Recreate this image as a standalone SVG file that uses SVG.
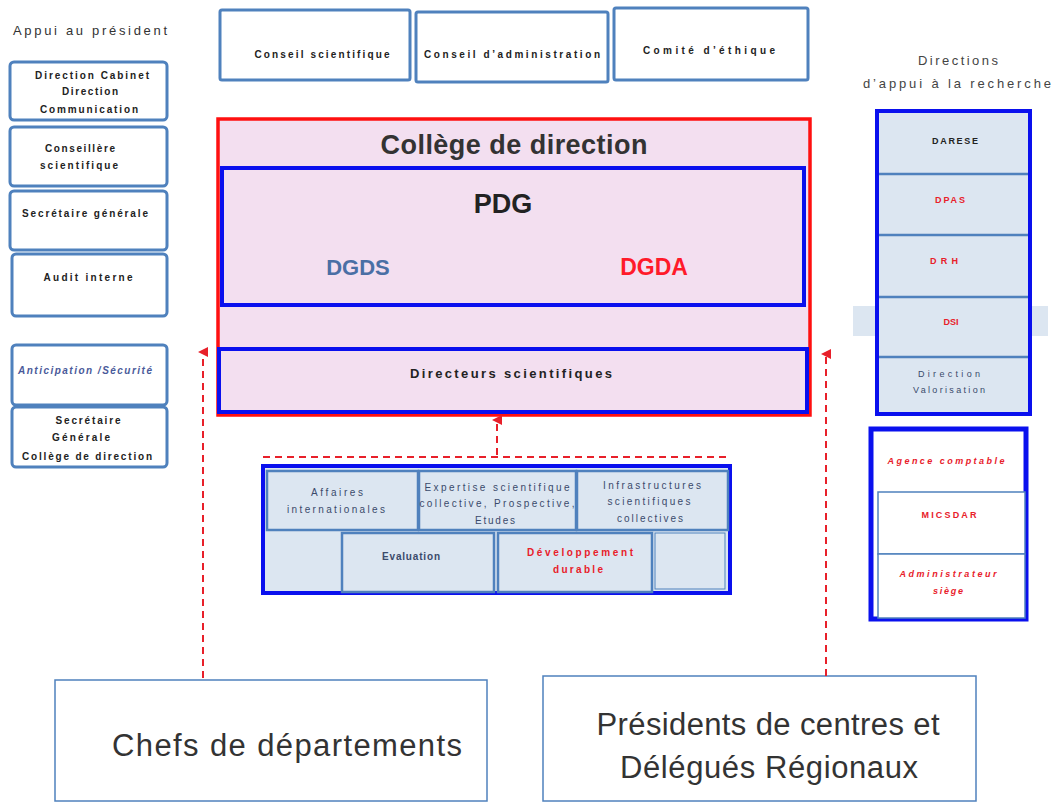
<svg xmlns="http://www.w3.org/2000/svg" width="1057" height="803" viewBox="0 0 1057 803">
<defs>
<style>
text{font-family:"Liberation Sans","DejaVu Sans",sans-serif;}
.lbox{fill:#fff;stroke:#4f81bd;stroke-width:3;}
.sm{font-size:10px;font-weight:bold;fill:#222;text-anchor:middle;}
.smr{font-size:10px;font-weight:bold;fill:#e8202a;text-anchor:middle;}
.smb{font-size:10px;fill:#3a4a6b;text-anchor:middle;}
.cell{fill:#dce6f1;stroke:#4f81bd;stroke-width:2.5;}
.big{font-size:31px;fill:#333;text-anchor:middle;}
.dash{stroke:#e8202a;stroke-width:2;stroke-dasharray:7,5;fill:none;}
</style>
<marker id="ah" markerWidth="10" markerHeight="10" refX="5" refY="5" orient="auto" markerUnits="userSpaceOnUse">
<path d="M0,10 L5,0 L10,10 Z" fill="#e8202a"/>
</marker>
</defs>
<rect width="1057" height="803" fill="#fff"/>

<g id="appui-president">
<text x="90" y="35" textLength="154" lengthAdjust="spacing" style="font-size:13px;fill:#333;text-anchor:middle">Appui au président</text>
</g>
<g id="n-cabinet"><rect class="lbox" x="10" y="62" width="157" height="58" rx="4"/>
<text class="sm" x="92" y="79" textLength="114" lengthAdjust="spacing">Direction Cabinet</text><text class="sm" x="90" y="95" textLength="56" lengthAdjust="spacing">Direction</text><text class="sm" x="89" y="113" textLength="98" lengthAdjust="spacing">Communication</text></g>
<g id="n-conseillere"><rect class="lbox" x="10" y="127" width="157" height="59" rx="4"/>
<text class="sm" x="80" y="152" textLength="70" lengthAdjust="spacing">Conseillère</text><text class="sm" x="79" y="169" textLength="78" lengthAdjust="spacing">scientifique</text></g>
<g id="n-secretaire"><rect class="lbox" x="10" y="191" width="157" height="59" rx="4"/>
<text class="sm" x="85" y="217" textLength="126" lengthAdjust="spacing">Secrétaire générale</text></g>
<g id="n-audit"><rect class="lbox" x="12" y="254" width="155" height="62" rx="4"/>
<text class="sm" x="88" y="281" textLength="89" lengthAdjust="spacing">Audit interne</text></g>
<g id="n-anticipation"><rect class="lbox" x="12" y="345" width="155" height="60" rx="4"/>
<text x="85" y="374" textLength="134" lengthAdjust="spacing" style="font-size:10px;font-style:italic;font-weight:bold;fill:#4a5a9a;text-anchor:middle">Anticipation /Sécurité</text></g>
<g id="n-sg-college"><rect class="lbox" x="12" y="407" width="155" height="60" rx="4"/>
<text class="sm" x="88" y="424" textLength="65" lengthAdjust="spacing">Secrétaire</text><text class="sm" x="81" y="441" textLength="58" lengthAdjust="spacing">Générale</text><text class="sm" x="87" y="460" textLength="130" lengthAdjust="spacing">Collège de direction</text></g>

<g id="n-conseil-sci"><rect class="lbox" x="220" y="10" width="190" height="70" rx="2" stroke-width="4"/>
<text class="sm" x="322" y="58" textLength="135" lengthAdjust="spacing">Conseil scientifique</text></g>
<g id="n-conseil-admin"><rect class="lbox" x="416" y="12" width="192" height="70" rx="2" stroke-width="4"/>
<text class="sm" x="512" y="58" textLength="176" lengthAdjust="spacing">Conseil d’administration</text></g>
<g id="n-comite"><rect class="lbox" x="614" y="8" width="194" height="72" rx="2" stroke-width="4"/>
<text class="sm" x="709" y="54" textLength="132" lengthAdjust="spacing">Comité d’éthique</text></g>

<g id="n-college">
<rect x="218" y="119" width="592" height="296" fill="#f3dff0" stroke="#ff1010" stroke-width="3.5"/>
<text x="514" y="154" style="font-size:27px;font-weight:bold;fill:#333;text-anchor:middle" textLength="267" lengthAdjust="spacing">Collège de direction</text>
</g>
<g id="n-pdg">
<rect x="222" y="168" width="582" height="137" fill="none" stroke="#0a10ee" stroke-width="4"/>
<text x="503" y="213" style="font-size:27px;font-weight:bold;fill:#222;text-anchor:middle">PDG</text>
<text x="358" y="275" style="font-size:22px;font-weight:bold;fill:#4a6fa5;text-anchor:middle">DGDS</text>
<text x="654" y="275" style="font-size:23px;font-weight:bold;fill:#ff1a2a;text-anchor:middle">DGDA</text>
</g>
<g id="n-directeurs">
<rect x="219" y="349" width="588" height="63" fill="none" stroke="#0a10ee" stroke-width="4"/>
<text class="sm" x="511" y="378" style="font-size:13px" textLength="202" lengthAdjust="spacing">Directeurs scientifiques</text>
</g>

<g id="n-delegations">
<rect x="263" y="466" width="467" height="127" fill="#dce6f1" stroke="#0a10ee" stroke-width="4"/>
<rect class="cell" x="267" y="471" width="151" height="59"/>
<text class="smb" x="337" y="496" textLength="52" lengthAdjust="spacing">Affaires</text><text class="smb" x="336" y="513" textLength="98" lengthAdjust="spacing">internationales</text>
<rect class="cell" x="419" y="471" width="157" height="59"/>
<text class="smb" x="497" y="491" textLength="145" lengthAdjust="spacing">Expertise scientifique</text><text class="smb" x="497" y="507" textLength="155" lengthAdjust="spacing">collective, Prospective,</text><text class="smb" x="495" y="524" textLength="40" lengthAdjust="spacing">Etudes</text>
<rect class="cell" x="577" y="471" width="151" height="59"/>
<text class="smb" x="652" y="489" textLength="98" lengthAdjust="spacing">Infrastructures</text><text class="smb" x="649" y="505" textLength="83" lengthAdjust="spacing">scientifiques</text><text class="smb" x="650" y="522" textLength="66" lengthAdjust="spacing">collectives</text>
<rect x="268" y="533" width="74" height="56" fill="#dce6f1"/>
<rect class="cell" x="342" y="533" width="152" height="59"/>
<text class="smb" x="411" y="560" style="font-weight:bold" textLength="58" lengthAdjust="spacing">Evaluation</text>
<rect class="cell" x="498" y="533" width="154" height="59"/>
<text class="smr" x="580" y="556" textLength="106" lengthAdjust="spacing">Développement</text><text class="smr" x="578" y="573" textLength="50" lengthAdjust="spacing">durable</text>
<rect x="655" y="533" width="70" height="56" fill="#dce6f1" stroke="#4f81bd" stroke-width="1"/>
</g>

<g id="directions-appui">
<text x="958" y="65" textLength="80" lengthAdjust="spacing" style="font-size:13px;fill:#444;text-anchor:middle">Directions</text>
<text x="957" y="88" textLength="188" lengthAdjust="spacing" style="font-size:13px;fill:#444;text-anchor:middle">d’appui à la recherche</text>
<rect x="853" y="306" width="195" height="30" fill="#dce6f1"/>
<rect x="877" y="111" width="153" height="303" fill="#dce6f1" stroke="#0a10ee" stroke-width="4"/>
<g stroke="#4f81bd" stroke-width="2.5">
<line x1="879" y1="174" x2="1028" y2="174"/><line x1="879" y1="235" x2="1028" y2="235"/>
<line x1="879" y1="297" x2="1028" y2="297"/><line x1="879" y1="357" x2="1028" y2="357"/>
</g>
<text class="sm" x="955" y="144" style="font-size:9px" textLength="46" lengthAdjust="spacing">DARESE</text>
<text class="smr" x="950" y="203" style="font-size:9px" textLength="30" lengthAdjust="spacing">DPAS</text>
<text class="smr" x="944" y="264" style="font-size:9px" textLength="28" lengthAdjust="spacing">DRH</text>
<text class="smr" x="951" y="325" style="font-size:9px">DSI</text>
<text class="smb" x="949" y="377" style="font-size:9px" textLength="62" lengthAdjust="spacing">Direction</text>
<text class="smb" x="949" y="393" style="font-size:9px" textLength="72" lengthAdjust="spacing">Valorisation</text>
</g>

<g id="n-agence">
<rect x="871" y="429" width="155" height="190" fill="#fff" stroke="#0a10ee" stroke-width="5"/>
<rect x="878" y="492" width="147" height="62" fill="#fff" stroke="#4f81bd" stroke-width="1.5"/>
<rect x="878" y="554" width="147" height="64" fill="#fff" stroke="#4f81bd" stroke-width="1.5"/>
<text class="smr" x="946" y="464" style="font-size:9px;font-style:italic" textLength="117" lengthAdjust="spacing">Agence comptable</text>
<text class="smr" x="949" y="518" style="font-size:9px" textLength="55" lengthAdjust="spacing">MICSDAR</text>
<text class="smr" x="948" y="577" style="font-size:9px;font-style:italic" textLength="97" lengthAdjust="spacing">Administrateur</text>
<text class="smr" x="948" y="594" style="font-size:9px;font-style:italic" textLength="30" lengthAdjust="spacing">siège</text>
</g>

<g id="n-chefs"><rect x="55" y="680" width="432" height="121" fill="#fff" stroke="#4f81bd" stroke-width="1.5"/>
<text class="big" x="287" y="756" textLength="350" lengthAdjust="spacing">Chefs de départements</text></g>
<g id="n-presidents"><rect x="543" y="676" width="433" height="125" fill="#fff" stroke="#4f81bd" stroke-width="1.5"/>
<text class="big" x="768" y="735" textLength="343" lengthAdjust="spacing">Présidents de centres et</text>
<text class="big" x="769" y="778" textLength="298" lengthAdjust="spacing">Délégués Régionaux</text></g>

<g id="connectors">
<line class="dash" x1="203" y1="678" x2="203" y2="352" marker-end="url(#ah)"/>
<line class="dash" x1="826" y1="676" x2="826" y2="354" marker-end="url(#ah)"/>
<line class="dash" x1="263" y1="457" x2="728" y2="457"/>
<line class="dash" x1="497" y1="455" x2="497" y2="420" marker-end="url(#ah)" stroke-dasharray="6,5"/>
</g>
</svg>
